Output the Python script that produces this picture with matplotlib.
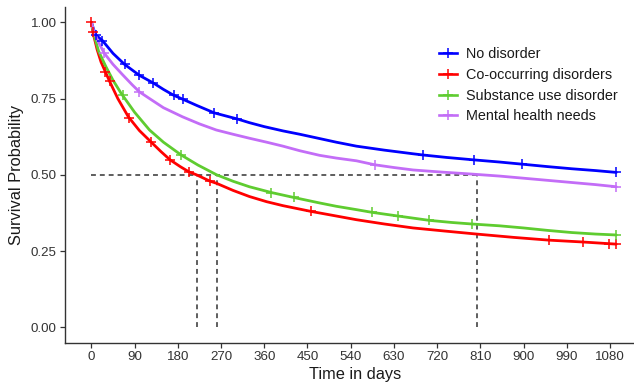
import numpy as np
import matplotlib
matplotlib.use("Agg")
import matplotlib.pyplot as plt
from matplotlib.lines import Line2D

plt.rcParams['font.family'] = ['Liberation Sans', 'DejaVu Sans']

labels = ["No disorder", "Co-occurring disorders", "Substance use disorder", "Mental health needs"]
colors = ["#0000FF", "#FF0000", "#5FCC30", "#C36DF7"]

# Survival curves (day, probability)
blue_t = [0, 5, 10, 23, 45, 69, 100, 130, 150, 171, 190, 220, 256, 304, 329, 360, 399, 434, 475,
          510, 552, 610, 670, 691, 740, 797, 850, 897, 950, 1000, 1050, 1093]
blue_s = [1.0, 0.975, 0.957, 0.94, 0.898, 0.862, 0.826, 0.80, 0.78, 0.761, 0.748, 0.727, 0.703, 0.683,
          0.671, 0.658, 0.644, 0.633, 0.619, 0.607, 0.594, 0.581, 0.569, 0.565, 0.557, 0.549, 0.542,
          0.535, 0.527, 0.52, 0.514, 0.508]

red_t = [0, 3, 12, 20, 29, 38, 55, 77, 100, 124, 145, 164, 185, 203, 219, 246, 261, 295, 329, 365,
         399, 430, 458, 500, 552, 610, 670, 735, 802, 880, 953, 1023, 1093]
red_s = [1.0, 0.968, 0.91, 0.87, 0.838, 0.806, 0.75, 0.69, 0.645, 0.608, 0.576, 0.549, 0.527, 0.51,
         0.50, 0.48, 0.472, 0.449, 0.429, 0.412, 0.399, 0.389, 0.38, 0.368, 0.353, 0.339, 0.326,
         0.316, 0.306, 0.295, 0.286, 0.28, 0.273]

green_t = [0, 5, 15, 30, 45, 62, 90, 121, 150, 187, 222, 261, 295, 329, 375, 421, 475, 510, 552,
           585, 639, 703, 750, 792, 850, 900, 950, 1000, 1050, 1093]
green_s = [1.0, 0.96, 0.905, 0.855, 0.81, 0.767, 0.705, 0.647, 0.607, 0.565, 0.532, 0.50, 0.479,
           0.461, 0.442, 0.426, 0.408, 0.397, 0.386, 0.377, 0.365, 0.351, 0.344, 0.339, 0.333,
           0.326, 0.318, 0.311, 0.306, 0.303]

purple_t = [0, 5, 13, 27, 45, 65, 85, 100, 121, 150, 190, 225, 260, 295, 329, 365, 399, 434, 475,
            510, 552, 590, 630, 670, 730, 788, 850, 900, 950, 1000, 1050, 1093]
purple_s = [1.0, 0.97, 0.94, 0.898, 0.862, 0.828, 0.795, 0.772, 0.75, 0.72, 0.69, 0.667, 0.647,
            0.633, 0.62, 0.607, 0.594, 0.579, 0.564, 0.555, 0.546, 0.533, 0.524, 0.516, 0.509,
            0.503, 0.496, 0.489, 0.482, 0.475, 0.468, 0.461]

# Censoring times
blue_c = [10, 23, 69, 99, 129, 171, 190, 256, 304, 691, 797, 897, 1093]
red_c = [0, 3, 29, 38, 79, 124, 164, 203, 246, 458, 953, 1023, 1077, 1093]
green_c = [65, 187, 375, 421, 585, 639, 703, 792, 1093]
purple_c = [27, 100, 590, 1093]

# Median survival times
medians = [803, 219, 261]

x_ticks = list(range(0, 1081, 90))
y_ticks = [0.0, 0.25, 0.5, 0.75, 1.0]
y_ticklabels = ["0.00", "0.25", "0.50", "0.75", "1.00"]

W, H = 634, 384
fig = plt.figure(figsize=(W / 100, H / 100), dpi=100)
left, right, bottom, top = 65, 646, 342.7, 7
ax = fig.add_axes([left / W, 1 - bottom / H, (right - left) / W, (bottom - top) / H])

series = [(blue_t, blue_s, blue_c), (red_t, red_s, red_c),
          (green_t, green_s, green_c), (purple_t, purple_s, purple_c)]

# median lines
ax.plot([0, max(medians)], [0.5, 0.5], ls=(0, (3.2, 2.6)), color="#333333", lw=1.1, zorder=1)
for m in medians:
    ax.plot([m, m], [0, 0.5], ls=(0, (3.2, 2.6)), color="#333333", lw=1.1, zorder=1)

for (t, s, c), col in zip(series, colors):
    ax.plot(t, s, color=col, lw=2.0, solid_joinstyle='round', solid_capstyle='round', zorder=3)
    cy = np.interp(c, t, s)
    ax.plot(c, cy, ls='none', marker='+', ms=7, mew=1.1, color=col, zorder=4)

ax.set_xlim(-55, 1155)
ax.set_ylim(-0.05, 1.05)
ax.set_xticks(x_ticks)
ax.set_yticks(y_ticks)
ax.set_yticklabels(y_ticklabels)
for sp in ["top", "right"]:
    ax.spines[sp].set_visible(False)
for sp in ["left", "bottom"]:
    ax.spines[sp].set_color("#333333")
    ax.spines[sp].set_linewidth(1.0)
ax.tick_params(axis='both', colors="#333333", labelcolor="#333333", length=3.5, width=0.9,
               labelsize=9.6, pad=2.5)
ax.set_xlabel("Time in days", fontsize=11.8, color="#1a1a1a", labelpad=3)
ax.set_ylabel("Survival Probability", fontsize=11.8, color="#1a1a1a", labelpad=5)

handles = [Line2D([0], [0], color=col, lw=1.9, marker='+', ms=7, mew=1.1) for col in colors]
leg = fig.legend(handles, labels, loc='upper left', bbox_to_anchor=(439 / W, 1 - 47 / H),
                 frameon=False, fontsize=10.4, handlelength=1.25, handletextpad=0.65,
                 labelspacing=0.47, borderpad=0, borderaxespad=0)
for t in leg.get_texts():
    t.set_color("#1a1a1a")

fig.savefig("out.png", dpi=100)
